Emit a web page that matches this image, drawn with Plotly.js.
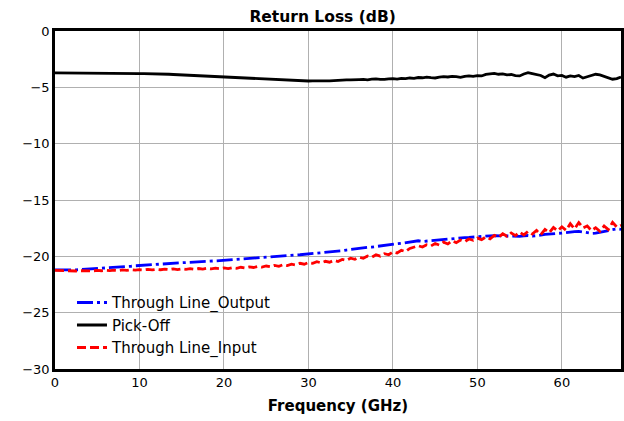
<!DOCTYPE html>
<html>
<head>
<meta charset="utf-8">
<script src="https://cdn.plot.ly/plotly-3.0.1.min.js"></script>
<style>html,body{margin:0;padding:0;background:#fff;}#chart{width:624px;height:421px;}</style>
</head>
<body>
<div id="chart"></div>
<script>
const freqGHz = [0,0.5,1,1.5,2,2.5,3,3.5,4,4.5,5,5.5,6,6.5,7,7.5,8,8.5,9,9.5,
10,10.5,11,11.5,12,12.5,13,13.5,14,14.5,15,15.5,16,16.5,17,17.5,18,18.5,19,19.5,
20,20.5,21,21.5,22,22.5,23,23.5,24,24.5,25,25.5,26,26.5,27,27.5,28,28.5,29,29.5,
30,30.5,31,31.5,32,32.5,33,33.5,34,34.5,35,35.5,36,36.5,37,37.5,38,38.5,39,39.5,
40,40.5,41,41.5,42,42.5,43,43.5,44,44.5,45,45.5,46,46.5,47,47.5,48,48.5,49,49.5,
50,50.5,51,51.5,52,52.5,53,53.5,54,54.5,55,55.5,56,56.5,57,57.5,58,58.5,59,59.5,
60,60.5,61,61.5,62,62.5,63,63.5,64,64.5,65,65.5,66,66.5,67];

const throughOutput = [-21.20,-21.21,-21.22,-21.22,-21.21,-21.20,-21.18,-21.16,-21.14,-21.12,
-21.10,-21.08,-21.05,-21.03,-21.00,-20.97,-20.94,-20.91,-20.88,-20.84,
-20.81,-20.78,-20.76,-20.73,-20.71,-20.68,-20.66,-20.64,-20.61,-20.59,
-20.57,-20.55,-20.52,-20.50,-20.48,-20.46,-20.44,-20.42,-20.40,-20.38,
-20.35,-20.33,-20.30,-20.27,-20.22,-20.19,-20.14,-20.12,-20.10,-20.08,
-20.05,-20.03,-20.01,-19.99,-19.96,-19.94,-19.91,-19.88,-19.86,-19.83,
-19.80,-19.77,-19.73,-19.70,-19.66,-19.63,-19.58,-19.54,-19.50,-19.44,
-19.38,-19.35,-19.30,-19.26,-19.20,-19.18,-19.12,-19.06,-19.02,-18.96,
-18.90,-18.88,-18.84,-18.80,-18.72,-18.66,-18.62,-18.68,-18.64,-18.60,
-18.56,-18.52,-18.50,-18.47,-18.44,-18.42,-18.38,-18.34,-18.32,-18.28,
-18.24,-18.22,-18.20,-18.18,-18.16,-18.17,-18.15,-18.18,-18.22,-18.24,
-18.22,-18.18,-18.15,-18.20,-18.18,-18.12,-18.05,-18.00,-17.98,-17.96,
-17.94,-17.88,-17.84,-17.80,-17.78,-17.84,-17.92,-17.96,-17.94,-17.86,
-17.78,-17.68,-17.58,-17.56,-17.60];

const pickOff = [-3.72,-3.72,-3.72,-3.72,-3.72,-3.72,-3.72,-3.72,-3.73,-3.73,
-3.73,-3.73,-3.74,-3.74,-3.75,-3.75,-3.76,-3.76,-3.77,-3.77,
-3.78,-3.79,-3.79,-3.80,-3.81,-3.82,-3.83,-3.84,-3.86,-3.88,
-3.90,-3.92,-3.93,-3.95,-3.96,-3.98,-3.99,-4.01,-4.03,-4.05,
-4.07,-4.09,-4.11,-4.13,-4.15,-4.18,-4.21,-4.23,-4.26,-4.28,
-4.30,-4.32,-4.34,-4.36,-4.38,-4.40,-4.41,-4.43,-4.44,-4.45,
-4.44,-4.43,-4.44,-4.43,-4.42,-4.43,-4.41,-4.37,-4.36,-4.34,
-4.33,-4.35,-4.31,-4.30,-4.33,-4.28,-4.25,-4.29,-4.30,-4.24,
-4.22,-4.27,-4.20,-4.22,-4.17,-4.20,-4.13,-4.15,-4.09,-4.14,
-4.17,-4.10,-4.05,-4.08,-4.02,-4.05,-4.12,-4.02,-3.98,-4.03,
-3.96,-3.99,-3.85,-3.80,-3.76,-3.84,-3.80,-3.90,-3.86,-3.96,
-3.99,-3.82,-3.70,-3.78,-3.88,-3.95,-4.15,-3.92,-3.82,-3.98,
-3.94,-4.10,-3.98,-4.05,-3.95,-4.18,-4.06,-3.98,-3.84,-3.90,
-4.02,-4.20,-4.28,-4.22,-4.08];

const throughInput = [-21.25,-21.27,-21.26,-21.29,-21.27,-21.30,-21.28,-21.30,-21.27,-21.29,
-21.25,-21.28,-21.24,-21.27,-21.23,-21.26,-21.21,-21.24,-21.19,-21.23,
-21.18,-21.21,-21.16,-21.20,-21.15,-21.19,-21.14,-21.18,-21.12,-21.17,
-21.11,-21.16,-21.10,-21.15,-21.08,-21.13,-21.06,-21.12,-21.05,-21.10,
-21.03,-21.09,-21.00,-21.06,-20.97,-21.03,-20.94,-20.99,-20.90,-20.96,
-20.86,-20.93,-20.80,-20.88,-20.74,-20.82,-20.70,-20.76,-20.62,-20.70,
-20.56,-20.62,-20.48,-20.58,-20.44,-20.52,-20.36,-20.46,-20.28,-20.36,
-20.16,-20.26,-20.08,-20.18,-19.98,-20.08,-19.86,-19.98,-19.76,-19.86,
-19.60,-19.70,-19.46,-19.58,-19.30,-19.20,-19.06,-19.18,-18.98,-19.08,
-18.86,-19.00,-18.74,-18.90,-18.62,-18.78,-18.56,-18.70,-18.46,-18.58,
-18.38,-18.52,-18.28,-18.44,-18.14,-18.30,-18.00,-18.22,-17.92,-18.16,
-17.86,-18.10,-17.78,-18.02,-17.70,-18.08,-17.62,-17.90,-17.44,-17.74,
-17.38,-17.70,-17.10,-17.56,-17.00,-17.48,-17.30,-17.72,-17.46,-17.78,
-17.30,-17.62,-16.98,-17.40,-17.24];

const yTicks = [0,-5,-10,-15,-20,-25,-30];
const xTicks = [0,10,20,30,40,50,60];

const FONT = 'DejaVu Sans, sans-serif';

const traces = [
  {x: freqGHz, y: throughOutput, name: 'Through Line_Output', mode: 'lines',
   line: {color: '#0000ff', width: 2.8, dash: '16px,4px,3px,4px'}},
  {x: freqGHz, y: pickOff, name: 'Pick-Off', mode: 'lines',
   line: {color: '#000000', width: 2.8}},
  {x: freqGHz, y: throughInput, name: 'Through Line_Input', mode: 'lines',
   line: {color: '#ff0000', width: 2.8, dash: '9px,4px'}}
];

const layout = {
  width: 624, height: 421,
  margin: {l: 55, r: 3, t: 31, b: 52, pad: 0},
  paper_bgcolor: '#ffffff', plot_bgcolor: '#ffffff',
  font: {family: FONT, size: 13, color: '#000'},
  title: {text: '<b>Return Loss (dB)</b>', font: {family: FONT, size: 15.5, color: '#000'},
          x: 0.517, xref: 'container', xanchor: 'center', y: 1, yref: 'paper', yanchor: 'bottom', pad: {b: 9}},
  xaxis: {range: [0, 67], tickvals: xTicks, ticks: '', showgrid: true, gridcolor: '#b0b0b0', gridwidth: 1,
          showline: true, linecolor: '#000', linewidth: 2.8, mirror: true, zeroline: false,
          tickfont: {family: FONT, size: 13},
          title: {text: '<b>Frequency (GHz)</b>', font: {family: FONT, size: 15}, standoff: 11}},
  yaxis: {range: [-30, 0], tickvals: yTicks, ticks: '', showgrid: true, gridcolor: '#b0b0b0', gridwidth: 1,
          showline: true, linecolor: '#000', linewidth: 2.8, mirror: true, zeroline: false,
          tickfont: {family: FONT, size: 13}},
  showlegend: true,
  legend: {x: 0.030, y: 0.014, xanchor: 'left', yanchor: 'bottom', bgcolor: 'rgba(255,255,255,0)',
           borderwidth: 0, font: {family: FONT, size: 15}, tracegroupgap: 0}
};

Plotly.newPlot('chart', traces, layout, {staticPlot: true, displayModeBar: false});
</script>
</body>
</html>
